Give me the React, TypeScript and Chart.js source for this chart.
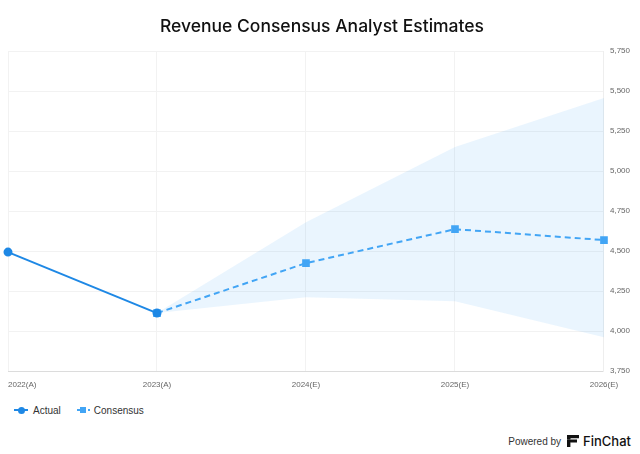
import React, { useEffect, useRef } from "react";
import { Chart, registerables } from "chart.js";

Chart.register(...registerables);

const categories = ["2022 (A)", "2023 (A)", "2024 (E)", "2025 (E)", "2026 (E)"];
const actual: (number | null)[] = [4494, 4113, null, null, null];
const consensus: (number | null)[] = [null, 4113, 4425, 4637, 4569];
const consensusHigh: (number | null)[] = [null, 4113, 4681, 5150, 5456];
const consensusLow: (number | null)[] = [null, 4113, 4212, 4187, 3962];
const yMin = 3750;
const yMax = 5750;
const yStep = 250;

const xLabelPlugin = {
  id: "xLabels",
  afterDraw(chart: any) {
    const scale = chart.scales.x;
    const ctx = chart.ctx;
    ctx.save();
    ctx.font = "8px 'Liberation Sans', Arial, sans-serif";
    ctx.fillStyle = "#666";
    ctx.textBaseline = "middle";
    const y = chart.chartArea.bottom + 14;
    categories.forEach((c, i) => {
      const x = scale.getPixelForTick(i);
      ctx.textAlign = i === 0 ? "left" : "center";
      ctx.fillText(c.replace(" ", ""), x, y);
    });
    ctx.restore();
  },
};

function FinChatLogo() {
  return (
    <svg width="12" height="12" viewBox="0 0 12 12" style={{ display: "block" }}>
      <path d="M0 0 H12 V3.2 H3.6 Z" fill="#111" />
      <path d="M0 4.4 H10 V7.4 H3.4 Z" fill="#111" />
      <rect x="0" y="4.4" width="3.4" height="7.6" fill="#111" />
      <rect x="0" y="0" width="3.6" height="4" fill="#111" />
    </svg>
  );
}

export default function App() {
  const ref = useRef<HTMLCanvasElement | null>(null);

  useEffect(() => {
    document.body.style.margin = "0";
    const canvas = ref.current;
    if (!canvas) return;
    const chart = new Chart(canvas, {
      type: "line",
      data: {
        labels: categories,
        datasets: [
          {
            label: "Low",
            data: consensusLow,
            borderWidth: 0,
            pointRadius: 0,
            fill: false,
            borderColor: "transparent",
            backgroundColor: "transparent",
            order: 3,
          },
          {
            label: "High",
            data: consensusHigh,
            borderWidth: 0,
            pointRadius: 0,
            fill: "-1",
            borderColor: "transparent",
            backgroundColor: "rgba(66,165,245,0.11)",
            order: 3,
          },
          {
            label: "Actual",
            data: actual,
            borderColor: "#1e88e5",
            backgroundColor: "#1e88e5",
            borderWidth: 2,
            pointRadius: 3.5,
            pointStyle: "circle",
            fill: false,
            order: 1,
          },
          {
            label: "Consensus",
            data: consensus,
            borderColor: "#42a5f5",
            backgroundColor: "#42a5f5",
            borderWidth: 2,
            borderDash: [6, 4],
            pointRadius: 4,
            pointStyle: "rect",
            fill: false,
            order: 2,
          },
        ],
      },
      options: {
        animation: false,
        responsive: false,
        maintainAspectRatio: false,
        layout: { padding: { left: 8, right: 4, top: 0, bottom: 0 } },
        plugins: {
          legend: { display: false },
          tooltip: { enabled: false },
          title: {
            display: true,
            text: "Revenue Consensus Analyst Estimates",
            color: "#111",
            font: { family: "Inter, 'Noto Sans', sans-serif", size: 17.5, weight: 500 },
            padding: { top: 16, bottom: 14 },
          },
        },
        scales: {
          x: {
            offset: false,
            grid: { color: "#f2f2f2", drawTicks: false },
            border: { color: "#dcdcdc", width: 1 },
            ticks: {
              color: "transparent",
              font: { size: 9 },
              padding: 8,
              maxRotation: 0,
              autoSkip: false,
            },
            afterFit(scale: any) {
              scale.paddingLeft = 0;
              scale.paddingRight = 0;
            },
          },
          y: {
            position: "right",
            min: yMin,
            max: yMax,
            grid: { color: "#f2f2f2", drawTicks: false },
            border: { color: "#eeeeee" },
            ticks: {
              stepSize: yStep,
              color: "#666",
              padding: 6,
              font: { family: "'Liberation Sans', Arial, sans-serif", size: 8 },
              callback: (v: any) => Number(v).toLocaleString("en-US"),
            },
          },
        },
      },
      plugins: [xLabelPlugin],
    });
    return () => chart.destroy();
  }, []);

  const legendText: React.CSSProperties = {
    fontFamily: "'Liberation Sans', Arial, sans-serif",
    fontSize: 10,
    color: "#333",
  };

  return (
    <div style={{ width: 640, height: 454, position: "relative", background: "#fff", overflow: "hidden" }}>
      <canvas ref={ref} width={640} height={398} style={{ display: "block" }} />
      <div style={{ position: "absolute", left: 14, top: 403, display: "flex", alignItems: "center", height: 14 }}>
        <div style={{ position: "relative", width: 14, height: 14, marginRight: 5 }}>
          <div style={{ position: "absolute", left: 0, top: 6, width: 14, height: 2, background: "#1e88e5" }} />
          <div style={{ position: "absolute", left: 3.5, top: 3.5, width: 7, height: 7, borderRadius: 4, background: "#1e88e5" }} />
        </div>
        <span style={legendText}>Actual</span>
        <div style={{ position: "relative", width: 13, height: 14, marginLeft: 16, marginRight: 4 }}>
          <div style={{ position: "absolute", left: 0, top: 6, width: 3, height: 2, background: "#42a5f5" }} />
          <div style={{ position: "absolute", left: 3.5, top: 3.5, width: 6, height: 6, background: "#42a5f5" }} />
          <div style={{ position: "absolute", left: 11, top: 6, width: 2, height: 2, background: "#42a5f5" }} />
        </div>
        <span style={legendText}>Consensus</span>
      </div>
      <div style={{ position: "absolute", right: 9, top: 432, display: "flex", alignItems: "center", height: 18 }}>
        <span style={{ fontFamily: "'Liberation Sans', Arial, sans-serif", fontSize: 10, color: "#333", marginRight: 6 }}>Powered by</span>
        <FinChatLogo />
        <span style={{ fontFamily: "Inter, 'Noto Sans', sans-serif", fontSize: 13, fontWeight: 500, color: "#111", marginLeft: 4 }}>FinChat</span>
      </div>
    </div>
  );
}
